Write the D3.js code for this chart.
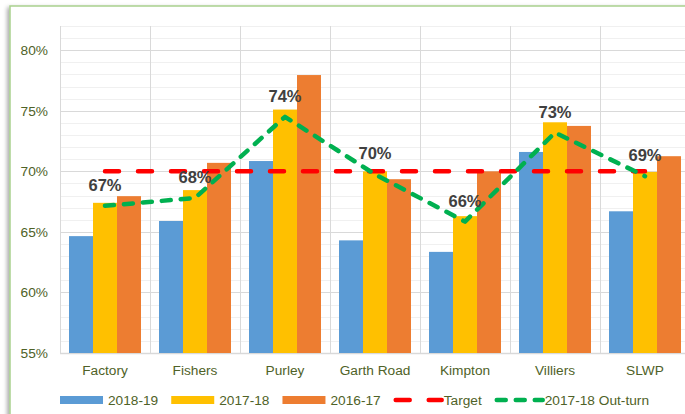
<!DOCTYPE html>
<html>
<head>
<meta charset="utf-8">
<script src="https://cdn.jsdelivr.net/npm/d3@7"></script>
<style>
    body { margin: 0; background: #fff; }
    svg { display: block; font-family: "Liberation Sans", Arial, sans-serif; }
</style>
</head>
<body>
<div id="chart"></div>
<script>
// Chart data
let sites = ["Factory", "Fishers", "Purley", "Garth Road", "Kimpton", "Villiers", "SLWP"];
let seriesNames = ["2018-19", "2017-18", "2016-17"];
let values1819 = [64.65, 65.9, 70.85, 64.3, 63.35, 71.6, 66.7];
let values1718 = [67.4, 68.45, 75.1, 70.0, 66.3, 74.05, 69.95];
let values1617 = [67.95, 70.7, 77.95, 69.35, 70.0, 73.75, 71.25];
let target = [70, 70, 70, 70, 70, 70, 70];
let outturn = [67.15, 67.8, 74.5, 69.75, 65.85, 73.2, 69.6];
let outturnLabels = ["67%", "68%", "74%", "70%", "66%", "73%", "69%"];
let yTicks = [55, 60, 65, 70, 75, 80];

let barColors = ["#5B9BD5", "#FFC000", "#ED7D31"];
let textColor = "#4F6228";

let width = 685;
let height = 414;
let plot = { left: 60, right: 690, top: 26, bottom: 353 };

let svg = d3
    .select("#chart")
    .append("svg")
    .attr("width", width)
    .attr("height", height);

let x = d3
    .scaleBand()
    .domain(sites)
    .range([plot.left, plot.right])
    .paddingInner(0)
    .paddingOuter(0);

let xInner = d3
    .scaleBand()
    .domain(seriesNames)
    .range([0, x.bandwidth()])
    .paddingOuter(0.375);

let y = d3.scaleLinear().domain([55, 82]).range([plot.bottom, plot.top]);

function drawFrame() {
    let defs = svg.append("defs");
    let filter = defs
        .append("filter")
        .attr("id", "shadow")
        .attr("x", "-5%")
        .attr("y", "-5%")
        .attr("width", "110%")
        .attr("height", "110%");
    filter
        .append("feDropShadow")
        .attr("dx", -2)
        .attr("dy", 2)
        .attr("stdDeviation", 2)
        .attr("flood-color", "#000")
        .attr("flood-opacity", 0.35);

    svg.append("rect")
        .attr("x", 10)
        .attr("y", 6)
        .attr("width", width + 20)
        .attr("height", height + 20)
        .attr("fill", "#fff")
        .attr("stroke", "#A9D18E")
        .attr("stroke-width", 1.5)
        .attr("filter", "url(#shadow)");
}

function drawGrid() {
    let minor = d3.range(55, 83, 1);
    svg.append("g")
        .selectAll("line")
        .data(minor.filter((d) => d % 5 !== 0))
        .join("line")
        .attr("x1", plot.left)
        .attr("x2", plot.right)
        .attr("y1", (d) => Math.round(y(d)) + 0.5)
        .attr("y2", (d) => Math.round(y(d)) + 0.5)
        .attr("stroke", "#F0F0F0");

    // vertical category separators
    svg.append("g")
        .selectAll("line")
        .data(sites.concat(["end"]))
        .join("line")
        .attr("x1", (d, i) => Math.round(plot.left + i * x.bandwidth()) + 0.5)
        .attr("x2", (d, i) => Math.round(plot.left + i * x.bandwidth()) + 0.5)
        .attr("y1", plot.top)
        .attr("y2", plot.bottom)
        .attr("stroke", "#D9D9D9");

    svg.append("g")
        .selectAll("line")
        .data(yTicks)
        .join("line")
        .attr("x1", plot.left)
        .attr("x2", plot.right)
        .attr("y1", (d) => Math.round(y(d)) + 0.5)
        .attr("y2", (d) => Math.round(y(d)) + 0.5)
        .attr("stroke", "#D9D9D9")
        .attr("stroke-width", (d) => (d === 55 ? 1.5 : 1));
}

function drawAxes() {
    let yAxis = d3
        .axisLeft(y)
        .tickValues(yTicks)
        .tickSize(0)
        .tickPadding(12)
        .tickFormat((d) => d + "%");
    svg.append("g")
        .attr("transform", `translate(${plot.left},0)`)
        .call(yAxis)
        .call((g) => g.select(".domain").remove())
        .selectAll("text")
        .attr("fill", textColor)
        .style("font-size", "13.7px");

    let xAxis = d3.axisBottom(x).tickSize(0).tickPadding(12);
    svg.append("g")
        .attr("transform", `translate(0,${plot.bottom})`)
        .call(xAxis)
        .call((g) => g.select(".domain").remove())
        .selectAll("text")
        .attr("fill", textColor)
        .style("font-size", "13.7px");
}

function drawBars() {
    let seriesValues = [values1819, values1718, values1617];
    let groups = svg
        .append("g")
        .selectAll("g")
        .data(sites)
        .join("g")
        .attr("transform", (d) => `translate(${x(d)},0)`);

    groups
        .selectAll("rect")
        .data((d, i) =>
            seriesNames.map((s, k) => ({ series: s, value: seriesValues[k][i], k: k }))
        )
        .join("rect")
        .attr("x", (d) => xInner(d.series))
        .attr("width", xInner.bandwidth())
        .attr("y", (d) => y(d.value))
        .attr("height", (d) => plot.bottom - y(d.value))
        .attr("fill", (d) => barColors[d.k]);
}

function drawLines() {
    let line = d3
        .line()
        .x((d, i) => x(sites[i]) + x.bandwidth() / 2)
        .y((d) => y(d));

    svg.append("path")
        .datum(target)
        .attr("d", line)
        .attr("fill", "none")
        .attr("stroke", "#FF0000")
        .attr("stroke-width", 4.5)
        .attr("stroke-linecap", "round")
        .attr("stroke-dasharray", "14,19");

    svg.append("path")
        .datum(outturn)
        .attr("d", line)
        .attr("fill", "none")
        .attr("stroke", "#00B050")
        .attr("stroke-width", 4.5)
        .attr("stroke-linecap", "round")
        .attr("stroke-linejoin", "round")
        .attr("stroke-dasharray", "9,10");

    svg.append("g")
        .selectAll("text")
        .data(outturn)
        .join("text")
        .attr("x", (d, i) => x(sites[i]) + x.bandwidth() / 2)
        .attr("y", (d) => y(d) - 15)
        .attr("text-anchor", "middle")
        .attr("fill", "#404040")
        .style("font-size", "16.5px")
        .style("font-weight", "bold")
        .text((d, i) => outturnLabels[i]);
}

function drawLegend() {
    let items = [
        { name: seriesNames[0], type: "bar", color: barColors[0] },
        { name: seriesNames[1], type: "bar", color: barColors[1] },
        { name: seriesNames[2], type: "bar", color: barColors[2] },
        { name: "Target", type: "line", color: "#FF0000", dash: "14,19" },
        { name: "2017-18 Out-turn", type: "line", color: "#00B050", dash: "9,10" },
    ];
    let legend = svg.append("g").attr("transform", "translate(0,400)");
    let cursor = 60;
    items.forEach((item) => {
        if (item.type === "bar") {
            legend.append("rect")
                .attr("x", cursor)
                .attr("y", -4)
                .attr("width", 43)
                .attr("height", 8)
                .attr("fill", item.color);
            cursor += 48;
        } else {
            legend.append("line")
                .attr("x1", cursor + 2)
                .attr("x2", cursor + 48)
                .attr("y1", 0)
                .attr("y2", 0)
                .attr("stroke", item.color)
                .attr("stroke-width", 4.5)
                .attr("stroke-linecap", "round")
                .attr("stroke-dasharray", item.dash);
            cursor += 50;
        }
        let label = legend
            .append("text")
            .attr("x", cursor)
            .attr("y", 5)
            .attr("fill", textColor)
            .style("font-size", "13.7px")
            .text(item.name);
        cursor += label.node().getComputedTextLength() + 13;
    });
}

drawFrame();
drawGrid();
drawBars();
drawAxes();
drawLines();
drawLegend();
</script>
</body>
</html>
